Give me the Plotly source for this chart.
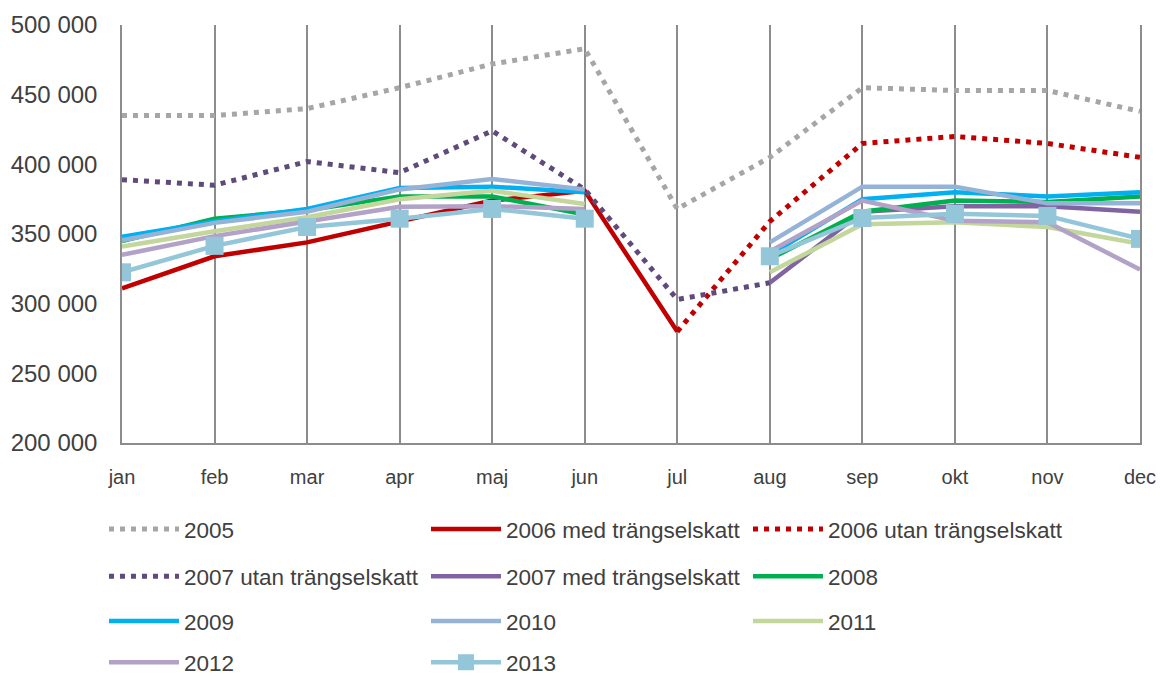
import plotly.graph_objects as go

months = ["jan", "feb", "mar", "apr", "maj", "jun", "jul", "aug", "sep", "okt", "nov", "dec"]

y2005 = [435000, 435000, 440000, 455000, 472000, 483000, 368000, 405000, 455000, 453000, 453000, 438000]
y2006_med = [311000, 334000, 344000, 359000, 374000, 381000, 280000, None, None, None, None, None]
y2006_utan = [None, None, None, None, None, None, 280000, 359000, 415000, 420000, 415000, 405000]
y2007_utan = [389000, 385000, 402000, 394000, 424000, 382000, 303000, 315000, None, None, None, None]
y2007_med = [None, None, None, None, None, None, None, 315000, 366000, 370000, 370000, 366000]
y2008 = [345000, 361000, 367000, 377000, 377000, 364000, None, 332000, 366000, 374000, 373000, 377000]
y2009 = [348000, 359000, 368000, 383000, 384000, 380000, None, 335000, 375000, 380000, 377000, 380000]
y2010 = [345500, 358000, 366000, 382000, 389500, 382000, None, 344000, 384000, 384000, 372000, 372000]
y2011 = [341000, 352000, 362000, 375000, 381000, 371500, None, 322500, 357000, 358500, 355000, 343000]
y2012 = [335000, 348500, 359000, 369500, 370000, 368000, None, 337500, 374000, 359500, 358500, 324500]
y2013 = [322500, 341500, 355000, 361000, 368000, 361000, None, 334000, 361500, 364500, 363000, 346500]

series = [
    ("2005", y2005, "#A6A6A6", "dot", "legend"),
    ("2006 med trängselskatt", y2006_med, "#C00000", "solid", "legend"),
    ("2006 utan trängselskatt", y2006_utan, "#C00000", "dot", "legend"),
    ("2007 utan trängselskatt", y2007_utan, "#604A7B", "dot", "legend2"),
    ("2007 med trängselskatt", y2007_med, "#8064A2", "solid", "legend2"),
    ("2008", y2008, "#00B050", "solid", "legend2"),
    ("2009", y2009, "#00B0F0", "solid", "legend3"),
    ("2010", y2010, "#95B3D7", "solid", "legend3"),
    ("2011", y2011, "#C3D69B", "solid", "legend3"),
    ("2012", y2012, "#B3A2C7", "solid", "legend4"),
    ("2013", y2013, "#93C6D8", "solid", "legend4"),
]

fig = go.Figure()
for name, vals, color, style, leg in series:
    dash = "5px,6px" if style == "dot" else "solid"
    mode = "lines+markers" if name == "2013" else "lines"
    fig.add_trace(go.Scatter(
        x=months, y=vals, name=name, mode=mode,
        line=dict(color=color, width=5 if style == "dot" else 4.5, dash=dash),
        marker=dict(symbol="square", size=18, color=color),
        legend=leg, connectgaps=False, hoverinfo="skip",
    ))

font = dict(family="Liberation Sans, Arial, sans-serif", size=20, color="#404040")
legend_font = dict(family="Liberation Sans, Arial, sans-serif", size=22.5, color="#404040")
legend_common = dict(orientation="h", x=-0.0177, xanchor="left", yanchor="top",
                     entrywidth=237, entrywidthmode="pixels", itemwidth=70,
                     font=legend_font, bgcolor="rgba(0,0,0,0)", traceorder="normal")

fig.update_layout(
    width=1162, height=676,
    margin=dict(l=122, r=22, t=25, b=233, autoexpand=False),
    paper_bgcolor="white", plot_bgcolor="white",
    separators=", ",
    font=font,
    showlegend=True,
    legend=dict(legend_common, y=-0.155),
    legend2=dict(legend_common, y=-0.268),
    legend3=dict(legend_common, y=-0.375),
    legend4=dict(legend_common, y=-0.474),
    xaxis=dict(
        type="category", categoryorder="array", categoryarray=months,
        range=[0, 11], showgrid=True, gridcolor="#8C8C8C", gridwidth=1.5,
        showline=True, linecolor="#8C8C8C", linewidth=1.5,
        ticks="", ticklabelstandoff=15, tickfont=dict(size=20, color="#404040"),
        zeroline=False, fixedrange=True, automargin=False,
    ),
    yaxis=dict(
        range=[200000, 500000], dtick=50000, tick0=200000, tickformat=",.0f",
        showgrid=False, zeroline=False,
        showline=True, mirror=True, linecolor="#8C8C8C", linewidth=1.5,
        ticks="", ticklabelstandoff=18, tickfont=dict(size=24, color="#404040"),
        fixedrange=True, automargin=False,
    ),
)

fig.write_html(
    "out.html",
    config={"displayModeBar": False},
    post_script="document.body.style.margin='0';document.body.style.overflow='hidden';",
)
